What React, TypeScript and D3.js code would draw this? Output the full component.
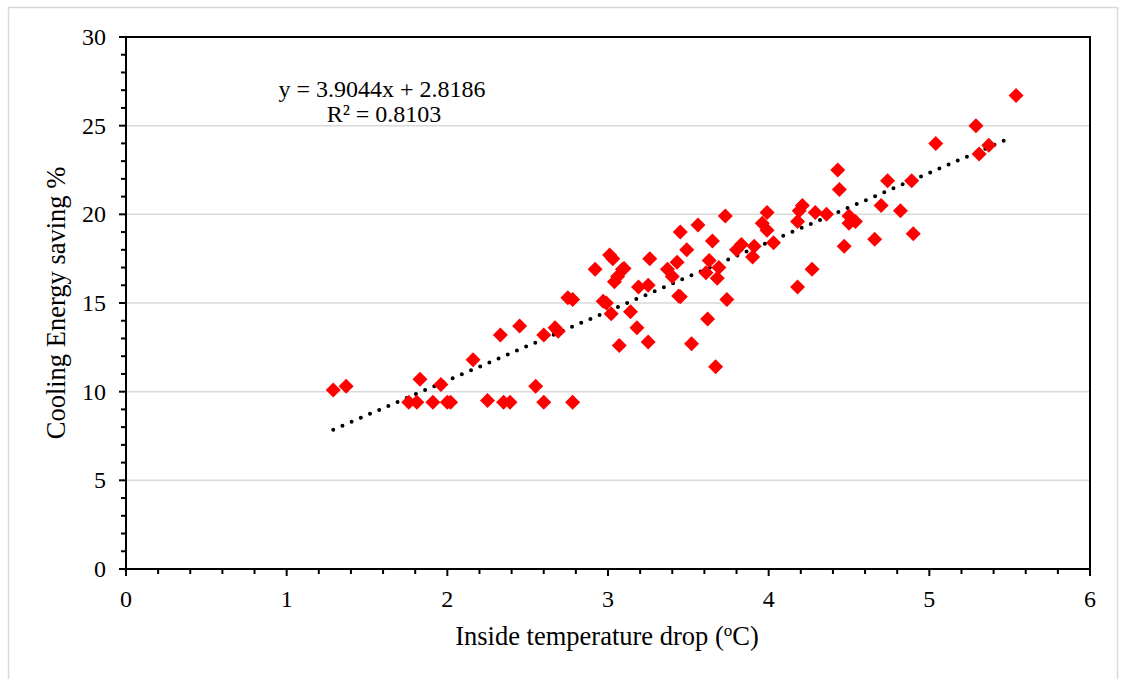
import React from "react";
import * as d3 from "d3";

const xValues: number[] = [
  1.29, 1.37, 1.76, 1.81, 1.83, 1.91, 1.96, 2.0, 2.02, 2.16, 2.25, 2.33, 2.35, 2.39, 2.45,
  2.55, 2.6, 2.6, 2.67, 2.69, 2.75, 2.78, 2.78, 2.92, 2.97, 2.99, 3.01, 3.02, 3.03, 3.04,
  3.06, 3.07, 3.09, 3.1, 3.14, 3.18, 3.19, 3.25, 3.25, 3.26, 3.37, 3.4, 3.43, 3.44, 3.45,
  3.45, 3.49, 3.52, 3.56, 3.61, 3.62, 3.63, 3.65, 3.67, 3.68, 3.69, 3.73, 3.74, 3.8, 3.83,
  3.9, 3.91, 3.96, 3.99, 3.99, 4.03, 4.18, 4.18, 4.19, 4.21, 4.27, 4.29, 4.36, 4.43, 4.44,
  4.47, 4.5, 4.5, 4.54, 4.66, 4.7, 4.74, 4.82, 4.89, 4.9, 5.04, 5.29, 5.31, 5.37, 5.54,
];
const yValues: number[] = [
  10.1, 10.3, 9.4, 9.4, 10.7, 9.4, 10.4, 9.4, 9.4, 11.8, 9.5, 13.2, 9.4, 9.4, 13.7,
  10.3, 9.4, 13.2, 13.6, 13.4, 15.3, 15.2, 9.4, 16.9, 15.1, 15.0, 17.7, 14.4, 17.5, 16.2,
  16.5, 12.6, 16.9, 16.95, 14.5, 13.6, 15.9, 16.0, 12.8, 17.5, 16.9, 16.5, 17.3, 15.4, 19.0,
  15.35, 18.0, 12.7, 19.4, 16.7, 14.1, 17.4, 18.5, 11.4, 16.4, 17.0, 19.9, 15.2, 18.0, 18.3,
  17.6, 18.2, 19.5, 19.1, 20.1, 18.4, 15.9, 19.6, 20.2, 20.5, 16.9, 20.1, 20.0, 22.5, 21.4,
  18.2, 19.9, 19.5, 19.6, 18.6, 20.5, 21.9, 20.2, 21.9, 18.9, 24.0, 25.0, 23.4, 23.9, 26.7,
];
const xTicks: number[] = [0, 1, 2, 3, 4, 5, 6];
const yTicks: number[] = [0, 5, 10, 15, 20, 25, 30];
const slope = 3.9044;
const intercept = 2.8186;
const trendRange: number[] = [1.29, 5.49];
const equationText = "y = 3.9044x + 2.8186";
const r2Text = "R² = 0.8103";
const xTitle = "Inside temperature drop (";
const yTitle = "Cooling Energy saving %";

export default function App() {
  const W = 1121;
  const H = 679;
  const left = 126;
  const right = 1090;
  const top = 37;
  const bottom = 569;
  const x = d3.scaleLinear().domain([0, 6]).range([left, right]);
  const y = d3.scaleLinear().domain([0, 30]).range([bottom, top]);
  const font = "'Liberation Serif', 'Times New Roman', serif";
  const xMinor = d3.range(0, 6.0001, 0.2);
  const yMinor = d3.range(0, 30.0001, 1);
  const line = d3
    .line<number>()
    .x((d) => x(d))
    .y((d) => y(slope * d + intercept));
  const diamond = (cx: number, cy: number, r: number) =>
    `M${cx},${cy - r}L${cx + r},${cy}L${cx},${cy + r}L${cx - r},${cy}Z`;

  return (
    <svg
      width={W}
      height={H}
      style={{ position: "absolute", left: 0, top: 0, background: "#fff" }}
    >
      <rect x={8.5} y={7.5} width={1109} height={690} fill="#fff" stroke="#d9d9d9" strokeWidth={1.5} />
      {yTicks
        .filter((t) => t > 0 && t < 30)
        .map((t) => (
          <line key={"g" + t} x1={left} x2={right} y1={y(t)} y2={y(t)} stroke="#d9d9d9" strokeWidth={1.5} />
        ))}
      {xMinor.map((t, i) => (
        <line
          key={"xm" + i}
          x1={x(t)}
          x2={x(t)}
          y1={bottom}
          y2={bottom + (Math.abs(t - Math.round(t)) < 1e-6 ? 7 : 5)}
          stroke="#000"
          strokeWidth={2}
        />
      ))}
      {yMinor.map((t, i) => (
        <line
          key={"ym" + i}
          x1={left - (t % 5 === 0 ? 7 : 5)}
          x2={left}
          y1={y(t)}
          y2={y(t)}
          stroke="#000"
          strokeWidth={2}
        />
      ))}
      <rect x={left} y={top} width={right - left} height={bottom - top} fill="none" stroke="#000" strokeWidth={2} />
      <path
        d={line(trendRange) || ""}
        fill="none"
        stroke="#000"
        strokeWidth={4}
        strokeLinecap="round"
        strokeDasharray="0 10"
      />
      {xValues.map((xv, i) => (
        <path key={"p" + i} d={diamond(x(xv), y(yValues[i]), 7.5)} fill="#ff0000" />
      ))}
      {xTicks.map((t) => (
        <text key={"xt" + t} x={x(t)} y={bottom + 38} textAnchor="middle" fontFamily={font} fontSize={24} fill="#000">
          {t}
        </text>
      ))}
      {yTicks.map((t) => (
        <text key={"yt" + t} x={left - 20} y={y(t) + 8} textAnchor="end" fontFamily={font} fontSize={24} fill="#000">
          {t}
        </text>
      ))}
      <text x={382} y={97} textAnchor="middle" fontFamily={font} fontSize={24} fill="#000">
        {equationText}
      </text>
      <text x={384} y={122} textAnchor="middle" fontFamily={font} fontSize={24} fill="#000">
        {r2Text}
      </text>
      <text x={607} y={645} textAnchor="middle" fontFamily={font} fontSize={26.5} fill="#000">
        {xTitle}
        <tspan dy={-9} fontSize={17}>o</tspan>
        <tspan dy={9}>C)</tspan>
      </text>
      <text
        transform={`translate(65,303) rotate(-90)`}
        textAnchor="middle"
        fontFamily={font}
        fontSize={26.5}
        fill="#000"
      >
        {yTitle}
      </text>
    </svg>
  );
}
